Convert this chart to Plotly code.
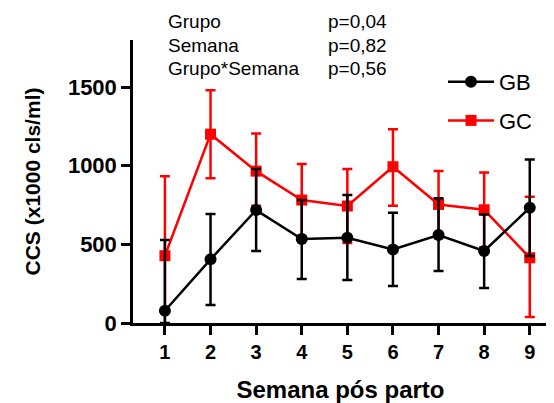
import plotly.graph_objects as go

weeks = [1, 2, 3, 4, 5, 6, 7, 8, 9]
gb_mean = [78, 405, 718, 534, 542, 468, 559, 458, 733]
gb_err_up = [450, 288, 261, 248, 272, 233, 234, 232, 307]
gb_err_down = [78, 291, 260, 254, 269, 233, 229, 236, 307]
gc_mean = [428, 1201, 966, 782, 744, 994, 754, 720, 415]
gc_err_up = [506, 280, 240, 229, 235, 239, 212, 238, 388]
gc_err_down = [506, 281, 220, 229, 235, 248, 212, 238, 377]

stats_labels = ["Grupo", "Semana", "Grupo*Semana"]
stats_p = ["p=0,04", "p=0,82", "p=0,56"]

FONT = "Liberation Sans, Arial, sans-serif"

# page body has an 8px margin; plot area target: x 133..548, y 40..323
OFF = 8
PL, PR, PT, PB = 133, 548, 40, 323
W, H = 554 - OFF, 403 - OFF
PW, PH = PR - PL, PB - PT

fig = go.Figure()
fig.add_trace(go.Scatter(
    x=weeks, y=gc_mean, name="GC", mode="lines+markers",
    line=dict(color="#ff0000", width=2.5),
    marker=dict(symbol="square", size=11, color="#ff0000"),
    error_y=dict(type="data", array=gc_err_up, arrayminus=gc_err_down,
                 color="#ff0000", thickness=2.5, width=5),
    legendgroup="gc", legendrank=2,
))
fig.add_trace(go.Scatter(
    x=weeks, y=gb_mean, name="GB", mode="lines+markers",
    line=dict(color="#000000", width=2.5),
    marker=dict(symbol="circle", size=12, color="#000000"),
    error_y=dict(type="data", array=gb_err_up, arrayminus=gb_err_down,
                 color="#000000", thickness=2.5, width=5),
    legendgroup="gb", legendrank=1,
))

def px_x(x):
    return (x - PL) / PW

def px_y(y):
    return (PB - y) / PH

for i, (lab, p) in enumerate(zip(stats_labels, stats_p)):
    yy = px_y(22 + 23 * i)
    fig.add_annotation(text=lab, xref="paper", yref="paper",
                       x=px_x(166), y=yy, xanchor="left", yanchor="middle",
                       showarrow=False, font=dict(family=FONT, size=19, color="#000"))
    fig.add_annotation(text=p, xref="paper", yref="paper",
                       x=px_x(389), y=yy, xanchor="right", yanchor="middle",
                       showarrow=False, font=dict(family=FONT, size=19, color="#000"))

fig.update_layout(
    width=W, height=H,
    margin=dict(l=PL - OFF, r=554 - PR, t=PT - OFF, b=403 - PB, autoexpand=False),
    paper_bgcolor="white", plot_bgcolor="white",
    font=dict(family=FONT, color="#000"),
    showlegend=True,
    legend=dict(x=px_x(443), y=px_y(61),
                xanchor="left", yanchor="top",
                traceorder="grouped", tracegroupgap=7,
                font=dict(family=FONT, size=22, color="#000"),
                bgcolor="rgba(0,0,0,0)", itemwidth=46),
    xaxis=dict(range=[0.3, 9.4], tickvals=weeks, ticktext=[str(w) for w in weeks],
               showgrid=False, zeroline=False, showline=True, linecolor="#000",
               linewidth=2.5, ticks="outside", ticklen=9, tickwidth=2.5, tickcolor="#000",
               tickfont=dict(family=FONT, size=20, color="#000", weight="bold"),
               title=dict(text="<b>Semana pós parto</b>", standoff=23,
                          font=dict(family=FONT, size=24, color="#000"))),
    yaxis=dict(range=[0, 1800], tickvals=[0, 500, 1000, 1500],
               showgrid=False, zeroline=False, showline=True, linecolor="#000",
               linewidth=2.5, ticks="outside", ticklen=9, tickwidth=2.5, tickcolor="#000",
               tickfont=dict(family=FONT, size=22, color="#000", weight="bold"),
               title=dict(text="<b>CCS (x1000 cls/ml)</b>", standoff=22,
                          font=dict(family=FONT, size=21, color="#000"))),
)

fig.write_html("out.html")
